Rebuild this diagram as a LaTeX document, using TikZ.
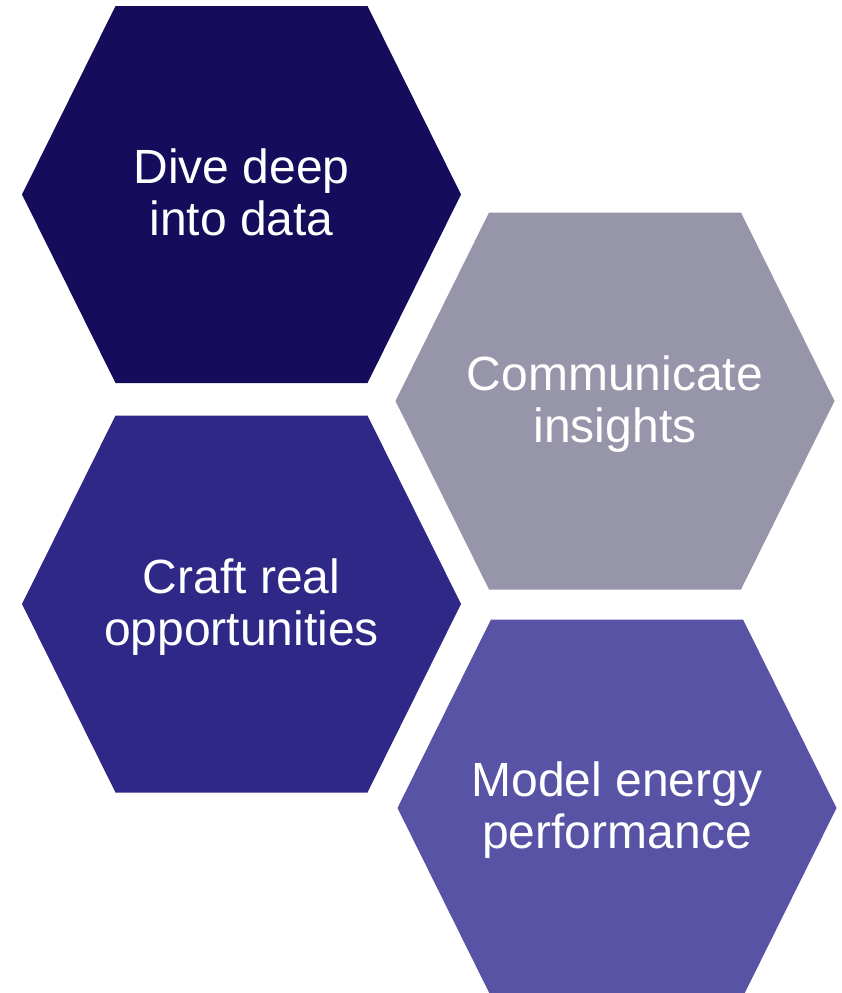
\documentclass[tikz,border=0pt]{standalone}
\usepackage{fontspec}
\setmainfont{Liberation Sans}
\definecolor{hexA}{HTML}{160C5C}
\definecolor{hexB}{HTML}{9795AA}
\definecolor{hexC}{HTML}{2F2887}
\definecolor{hexD}{HTML}{5953A5}
\begin{document}
\begin{tikzpicture}[x=1pt,y=-1pt,
  hexa/.pic={\fill (-219.5,0) -- (-126,-188.5) -- (126,-188.5) -- (219.5,0) -- (126,188.5) -- (-126,188.5) -- cycle;},
  hexlabel/.style={text=white, align=center, anchor=base, inner sep=0pt,
    font=\fontsize{48}{52}\selectfont}]
\useasboundingbox (0,0) rectangle (841,993);
\pic[fill=hexA] at (241.5,194.5) {hexa};
\pic[fill=hexB] at (615,401) {hexa};
\pic[fill=hexC] at (241.5,604) {hexa};
\pic[fill=hexD] at (617,808) {hexa};
\node[hexlabel] (t1) at (241.5,235) {Dive deep\\into data};
\node[hexlabel] (t2) at (615,442) {Communicate\\insights};
\node[hexlabel] (t3) at (241.5,645) {Craft real\\opportunities};
\node[hexlabel] (t4) at (617,848) {Model energy\\performance};
\end{tikzpicture}
\end{document}
